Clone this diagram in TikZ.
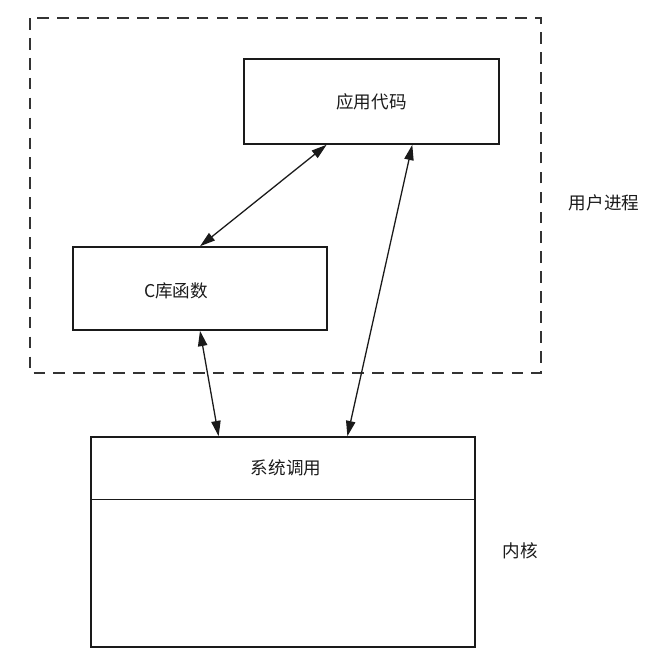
\documentclass[tikz,border=0pt]{standalone}
\usepackage{fontspec}
\newfontfamily\cjk{Noto Sans CJK SC}
\usetikzlibrary{arrows.meta,calc,positioning}
\definecolor{ink}{HTML}{1A1A1A}
\definecolor{dashink}{HTML}{333333}
\tikzset{box/.style={draw=ink, line width=1.3pt, inner sep=0pt}, link/.style={{Triangle[length=4.6mm,width=2.8mm]}-{Triangle[length=4.6mm,width=2.8mm]}, line width=1.1pt, color=ink}, userbox/.style={draw=dashink, line width=1.3pt, dash pattern=on 10pt off 7pt}, lab/.style={font=\cjk\fontsize{15}{17}\selectfont, text=ink}}

\begin{document}
\begin{tikzpicture}[x=0.03cm, y=-0.03cm]
\useasboundingbox (0,0) rectangle (665,660);
\draw[userbox] (30,18) rectangle (541,373);
\node[lab] (userlab) at (604,203) {用户进程};
\node[box, minimum width=7.65cm, minimum height=2.55cm] (app) at (371.5,101.5) {};
\node[lab] at (app) {应用代码};
\node[box, minimum width=7.62cm, minimum height=2.49cm] (cfunc) at (200,288.5) {};
\node[lab] at (176,291) {C库函数};
\node[box, minimum width=11.52cm, minimum height=6.3cm] (kernel) at (283,542) {};
\draw[box] ($(kernel.north west)!0.3!(kernel.south west)$) -- ($(kernel.north east)!0.3!(kernel.south east)$);
\node[lab] (syscall) at (286,468) {系统调用};
\node[lab] (kernlab) at (520,551) {内核};
\draw[link] ($(app.south west)!0.325!(app.south east)$) -- (cfunc.north);
\draw[link] ($(app.south west)!0.659!(app.south east)$) -- ($(kernel.north west)!0.667!(kernel.north east)$);
\draw[link] (cfunc.south) -- ($(kernel.north west)!0.333!(kernel.north east)$);
\end{tikzpicture}
\end{document}
